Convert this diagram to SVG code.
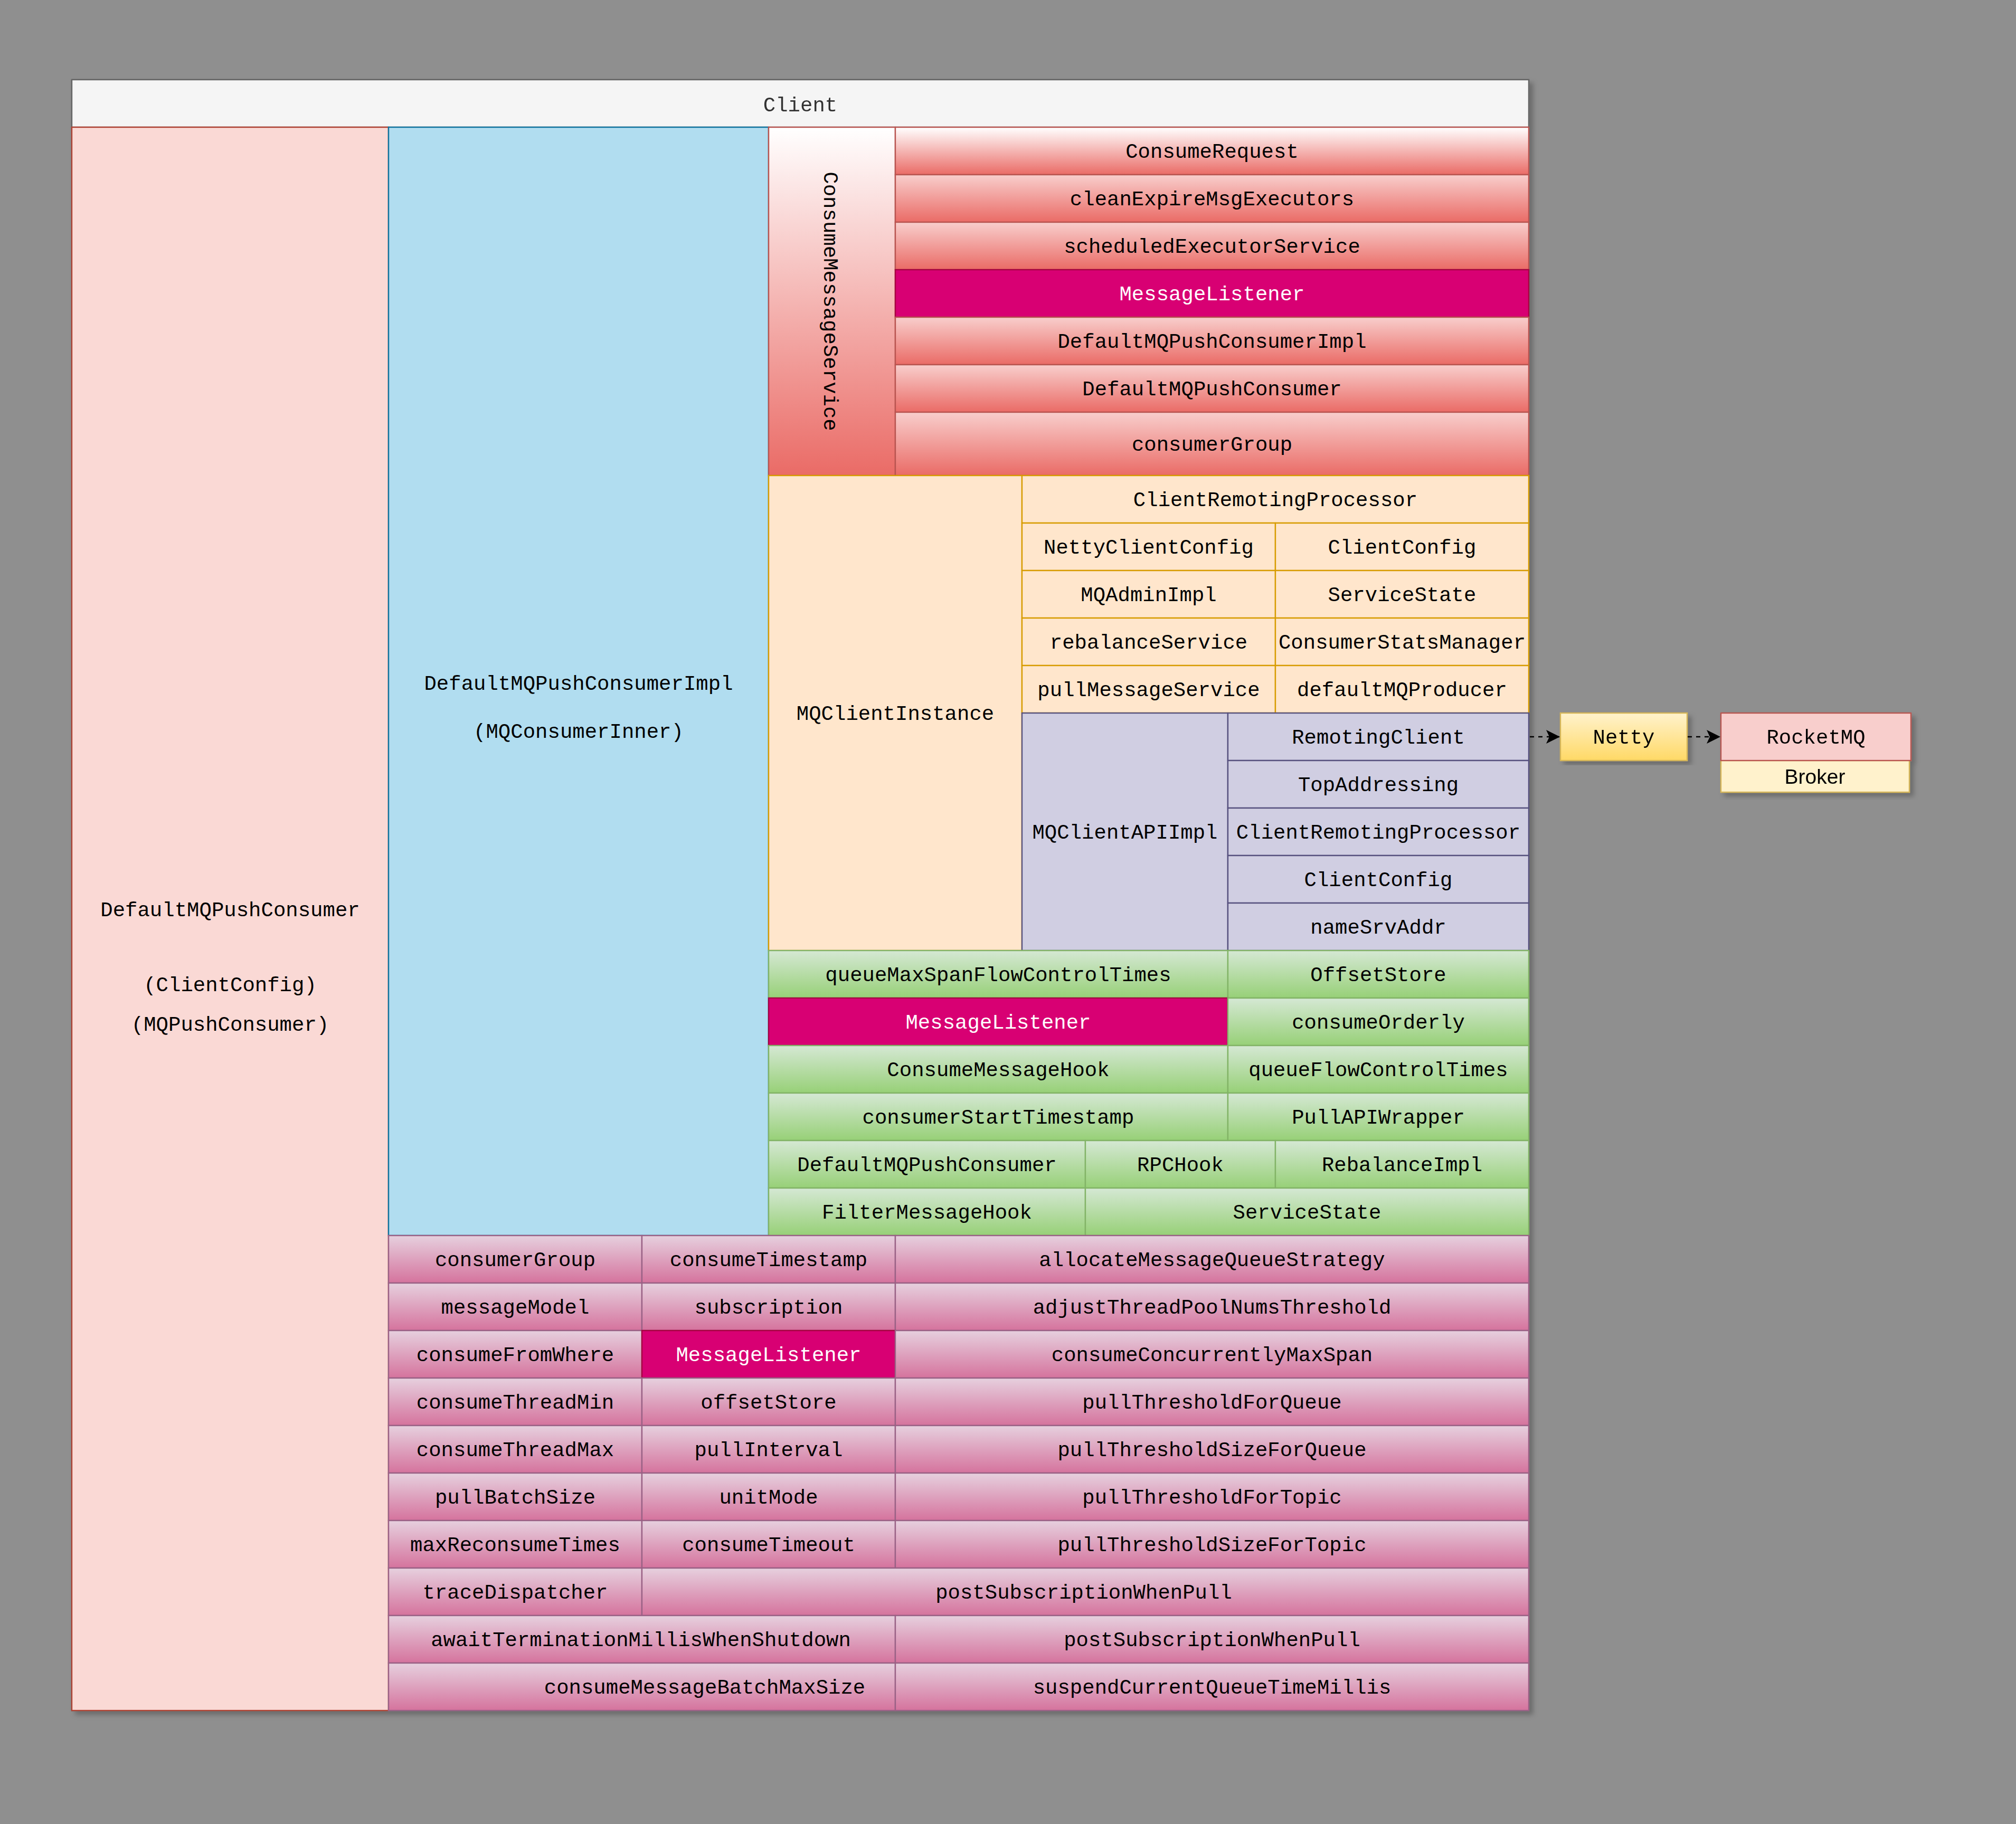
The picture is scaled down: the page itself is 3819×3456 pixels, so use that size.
<svg xmlns="http://www.w3.org/2000/svg" width="3819" height="3456" viewBox="0 0 3819 3456">
<style>
.t{font-family:"Liberation Mono","Courier New",monospace;font-size:39px;text-anchor:middle;fill:#000}
.w{fill:#fff}
.s{font-family:"Liberation Sans",Arial,sans-serif;font-size:39px;text-anchor:middle;fill:#000}
rect{stroke-width:2.4}
.red{fill:url(#gRed);stroke:#b85450}
.redw{fill:url(#gRedW);stroke:#b85450}
.mag{fill:#d80073;stroke:#a50040}
.org{fill:#ffe6cc;stroke:#d79b00}
.pur{fill:#d0cee2;stroke:#56517e}
.grn{fill:url(#gGreen);stroke:#82b366}
.pnk{fill:url(#gPink);stroke:#996185}
.conn{fill:none;stroke:#000;stroke-width:2.4;stroke-dasharray:8 8}
</style>
<defs>
<linearGradient id="gRed" x1="0" y1="0" x2="0" y2="1"><stop offset="0" stop-color="#f8cecc"/><stop offset="1" stop-color="#ea6b66"/></linearGradient>
<linearGradient id="gRedW" x1="0" y1="0" x2="0" y2="1"><stop offset="0" stop-color="#ffffff"/><stop offset="1" stop-color="#ea6b66"/></linearGradient>
<linearGradient id="gGreen" x1="0" y1="0" x2="0" y2="1"><stop offset="0" stop-color="#d5e8d4"/><stop offset="1" stop-color="#97d077"/></linearGradient>
<linearGradient id="gPink" x1="0" y1="0" x2="0" y2="1"><stop offset="0" stop-color="#e6d0de"/><stop offset="1" stop-color="#d5739d"/></linearGradient>
<linearGradient id="gYel" x1="0" y1="0" x2="0" y2="1"><stop offset="0" stop-color="#fff2cc"/><stop offset="1" stop-color="#ffd966"/></linearGradient>
<filter id="sh" x="-5%" y="-5%" width="115%" height="115%"><feDropShadow dx="7" dy="7" stdDeviation="5" flood-color="#000" flood-opacity="0.25"/></filter>
<marker id="ah" viewBox="0 0 26 26" refX="26" refY="13" markerWidth="26" markerHeight="26" markerUnits="userSpaceOnUse" orient="auto"><path d="M0,0 L26,13 L0,26 L6,13 Z" fill="#000"/></marker>
</defs>
<rect x="0" y="0" width="3819" height="3456" fill="#8f8f8f"/>

<g id="client" filter="url(#sh)">
<rect x="136" y="151" width="2760" height="3090" fill="#f5f5f5" stroke="#666666"/>
<rect x="136" y="151" width="2760" height="90" fill="#f5f5f5" stroke="#666666"/>
<text class="t" x="1516" y="211" style="fill:#333">Client</text>
</g>

<g id="defaultMQPushConsumer">
<rect x="136" y="241" width="600" height="3000" fill="#fad9d5" stroke="#ae4132"/>
<text class="t" x="436" y="1736">DefaultMQPushConsumer</text>
<text class="t" x="436" y="1878">(ClientConfig)</text>
<text class="t" x="436" y="1953">(MQPushConsumer)</text>
</g>

<g id="defaultMQPushConsumerImpl">
<rect x="736" y="241" width="720" height="2100" fill="#b1ddf0" stroke="#10739e"/>
<text class="t" x="1096" y="1307">DefaultMQPushConsumerImpl</text>
<text class="t" x="1096" y="1398">(MQConsumerInner)</text>
</g>

<g id="consumeMessageService">
<rect class="redw" x="1456" y="241" width="240" height="660"/>
<text class="t" transform="translate(1561,571) rotate(90)" x="0" y="0">ConsumeMessageService</text>
</g>
<g id="cms-items">
<g id="cms-consumeRequest"><rect class="redw" x="1696" y="241" width="1200" height="90"/><text class="t" x="2296" y="299">ConsumeRequest</text></g>
<g id="cms-cleanExpire"><rect class="red" x="1696" y="331" width="1200" height="90"/><text class="t" x="2296" y="389">cleanExpireMsgExecutors</text></g>
<g id="cms-scheduled"><rect class="red" x="1696" y="421" width="1200" height="90"/><text class="t" x="2296" y="479">scheduledExecutorService</text></g>
<g id="cms-listener"><rect class="mag" x="1696" y="511" width="1200" height="90"/><text class="t w" x="2296" y="569">MessageListener</text></g>
<g id="cms-impl"><rect class="red" x="1696" y="601" width="1200" height="90"/><text class="t" x="2296" y="659">DefaultMQPushConsumerImpl</text></g>
<g id="cms-consumer"><rect class="red" x="1696" y="691" width="1200" height="90"/><text class="t" x="2296" y="749">DefaultMQPushConsumer</text></g>
<g id="cms-group"><rect class="red" x="1696" y="781" width="1200" height="120"/><text class="t" x="2296" y="854">consumerGroup</text></g>
</g>

<g id="mqClientInstance">
<rect class="org" x="1456" y="901" width="480" height="900"/>
<text class="t" x="1696" y="1364">MQClientInstance</text>
</g>
<g id="mqci-items">
<g id="mqci-crp"><rect class="org" x="1936" y="901" width="960" height="90"/><text class="t" x="2416" y="959">ClientRemotingProcessor</text></g>
<g id="mqci-ncc"><rect class="org" x="1936" y="991" width="480" height="90"/><text class="t" x="2176" y="1049">NettyClientConfig</text></g>
<g id="mqci-cc"><rect class="org" x="2416" y="991" width="480" height="90"/><text class="t" x="2656" y="1049">ClientConfig</text></g>
<g id="mqci-admin"><rect class="org" x="1936" y="1081" width="480" height="90"/><text class="t" x="2176" y="1139">MQAdminImpl</text></g>
<g id="mqci-state"><rect class="org" x="2416" y="1081" width="480" height="90"/><text class="t" x="2656" y="1139">ServiceState</text></g>
<g id="mqci-rebalance"><rect class="org" x="1936" y="1171" width="480" height="90"/><text class="t" x="2176" y="1229">rebalanceService</text></g>
<g id="mqci-stats"><rect class="org" x="2416" y="1171" width="480" height="90"/><text class="t" x="2656" y="1229">ConsumerStatsManager</text></g>
<g id="mqci-pull"><rect class="org" x="1936" y="1261" width="480" height="90"/><text class="t" x="2176" y="1319">pullMessageService</text></g>
<g id="mqci-producer"><rect class="org" x="2416" y="1261" width="480" height="90"/><text class="t" x="2656" y="1319">defaultMQProducer</text></g>
</g>

<g id="mqClientAPIImpl">
<rect class="pur" x="1936" y="1351" width="390" height="450"/>
<text class="t" x="2131" y="1589">MQClientAPIImpl</text>
</g>
<g id="api-items">
<g id="api-remoting"><rect class="pur" x="2326" y="1351" width="570" height="90"/><text class="t" x="2611" y="1409">RemotingClient</text></g>
<g id="api-top"><rect class="pur" x="2326" y="1441" width="570" height="90"/><text class="t" x="2611" y="1499">TopAddressing</text></g>
<g id="api-crp"><rect class="pur" x="2326" y="1531" width="570" height="90"/><text class="t" x="2611" y="1589">ClientRemotingProcessor</text></g>
<g id="api-cc"><rect class="pur" x="2326" y="1621" width="570" height="90"/><text class="t" x="2611" y="1679">ClientConfig</text></g>
<g id="api-ns"><rect class="pur" x="2326" y="1711" width="570" height="90"/><text class="t" x="2611" y="1769">nameSrvAddr</text></g>
</g>

<g id="impl-fields">
<g id="f-qmsfct"><rect class="grn" x="1456" y="1801" width="870" height="90"/><text class="t" x="1891" y="1859">queueMaxSpanFlowControlTimes</text></g>
<g id="f-offset"><rect class="grn" x="2326" y="1801" width="570" height="90"/><text class="t" x="2611" y="1859">OffsetStore</text></g>
<g id="f-listener"><rect class="mag" x="1456" y="1891" width="870" height="90"/><text class="t w" x="1891" y="1949">MessageListener</text></g>
<g id="f-orderly"><rect class="grn" x="2326" y="1891" width="570" height="90"/><text class="t" x="2611" y="1949">consumeOrderly</text></g>
<g id="f-hook"><rect class="grn" x="1456" y="1981" width="870" height="90"/><text class="t" x="1891" y="2039">ConsumeMessageHook</text></g>
<g id="f-qfct"><rect class="grn" x="2326" y="1981" width="570" height="90"/><text class="t" x="2611" y="2039">queueFlowControlTimes</text></g>
<g id="f-start"><rect class="grn" x="1456" y="2071" width="870" height="90"/><text class="t" x="1891" y="2129">consumerStartTimestamp</text></g>
<g id="f-pullapi"><rect class="grn" x="2326" y="2071" width="570" height="90"/><text class="t" x="2611" y="2129">PullAPIWrapper</text></g>
<g id="f-consumer"><rect class="grn" x="1456" y="2161" width="600" height="90"/><text class="t" x="1756" y="2219">DefaultMQPushConsumer</text></g>
<g id="f-rpc"><rect class="grn" x="2056" y="2161" width="360" height="90"/><text class="t" x="2236" y="2219">RPCHook</text></g>
<g id="f-rebalance"><rect class="grn" x="2416" y="2161" width="480" height="90"/><text class="t" x="2656" y="2219">RebalanceImpl</text></g>
<g id="f-filter"><rect class="grn" x="1456" y="2251" width="600" height="90"/><text class="t" x="1756" y="2309">FilterMessageHook</text></g>
<g id="f-state"><rect class="grn" x="2056" y="2251" width="840" height="90"/><text class="t" x="2476" y="2309">ServiceState</text></g>
</g>

<g id="consumer-fields">
<g id="c1"><rect class="pnk" x="736" y="2341" width="480" height="90"/><text class="t" x="976" y="2399">consumerGroup</text></g>
<g id="c2"><rect class="pnk" x="1216" y="2341" width="480" height="90"/><text class="t" x="1456" y="2399">consumeTimestamp</text></g>
<g id="c3"><rect class="pnk" x="1696" y="2341" width="1200" height="90"/><text class="t" x="2296" y="2399">allocateMessageQueueStrategy</text></g>
<g id="c4"><rect class="pnk" x="736" y="2431" width="480" height="90"/><text class="t" x="976" y="2489">messageModel</text></g>
<g id="c5"><rect class="pnk" x="1216" y="2431" width="480" height="90"/><text class="t" x="1456" y="2489">subscription</text></g>
<g id="c6"><rect class="pnk" x="1696" y="2431" width="1200" height="90"/><text class="t" x="2296" y="2489">adjustThreadPoolNumsThreshold</text></g>
<g id="c7"><rect class="pnk" x="736" y="2521" width="480" height="90"/><text class="t" x="976" y="2579">consumeFromWhere</text></g>
<g id="c8"><rect class="mag" x="1216" y="2521" width="480" height="90"/><text class="t w" x="1456" y="2579">MessageListener</text></g>
<g id="c9"><rect class="pnk" x="1696" y="2521" width="1200" height="90"/><text class="t" x="2296" y="2579">consumeConcurrentlyMaxSpan</text></g>
<g id="c10"><rect class="pnk" x="736" y="2611" width="480" height="90"/><text class="t" x="976" y="2669">consumeThreadMin</text></g>
<g id="c11"><rect class="pnk" x="1216" y="2611" width="480" height="90"/><text class="t" x="1456" y="2669">offsetStore</text></g>
<g id="c12"><rect class="pnk" x="1696" y="2611" width="1200" height="90"/><text class="t" x="2296" y="2669">pullThresholdForQueue</text></g>
<g id="c13"><rect class="pnk" x="736" y="2701" width="480" height="90"/><text class="t" x="976" y="2759">consumeThreadMax</text></g>
<g id="c14"><rect class="pnk" x="1216" y="2701" width="480" height="90"/><text class="t" x="1456" y="2759">pullInterval</text></g>
<g id="c15"><rect class="pnk" x="1696" y="2701" width="1200" height="90"/><text class="t" x="2296" y="2759">pullThresholdSizeForQueue</text></g>
<g id="c16"><rect class="pnk" x="736" y="2791" width="480" height="90"/><text class="t" x="976" y="2849">pullBatchSize</text></g>
<g id="c17"><rect class="pnk" x="1216" y="2791" width="480" height="90"/><text class="t" x="1456" y="2849">unitMode</text></g>
<g id="c18"><rect class="pnk" x="1696" y="2791" width="1200" height="90"/><text class="t" x="2296" y="2849">pullThresholdForTopic</text></g>
<g id="c19"><rect class="pnk" x="736" y="2881" width="480" height="90"/><text class="t" x="976" y="2939">maxReconsumeTimes</text></g>
<g id="c20"><rect class="pnk" x="1216" y="2881" width="480" height="90"/><text class="t" x="1456" y="2939">consumeTimeout</text></g>
<g id="c21"><rect class="pnk" x="1696" y="2881" width="1200" height="90"/><text class="t" x="2296" y="2939">pullThresholdSizeForTopic</text></g>
<g id="c22"><rect class="pnk" x="736" y="2971" width="480" height="90"/><text class="t" x="976" y="3029">traceDispatcher</text></g>
<g id="c23"><rect class="pnk" x="1216" y="2971" width="1680" height="90"/><text class="t" x="2053" y="3029">postSubscriptionWhenPull</text></g>
<g id="c24"><rect class="pnk" x="736" y="3061" width="960" height="90"/><text class="t" x="1214" y="3119">awaitTerminationMillisWhenShutdown</text></g>
<g id="c25"><rect class="pnk" x="1696" y="3061" width="1200" height="90"/><text class="t" x="2296" y="3119">postSubscriptionWhenPull</text></g>
<g id="c26"><rect class="pnk" x="736" y="3151" width="960" height="90"/><text class="t" x="1335" y="3209">consumeMessageBatchMaxSize</text></g>
<g id="c27"><rect class="pnk" x="1696" y="3151" width="1200" height="90"/><text class="t" x="2296" y="3209">suspendCurrentQueueTimeMillis</text></g>
</g>

<g id="netty" filter="url(#sh)">
<rect x="2956" y="1351" width="240" height="90" fill="url(#gYel)" stroke="#d6b656"/>
<text class="t" x="3076" y="1409">Netty</text>
</g>

<g id="rocketmq" filter="url(#sh)">
<rect x="3260" y="1441" width="357" height="60" fill="#fff2cc" stroke="#d6b656"/>
<rect x="3260" y="1351" width="360" height="90" fill="#f8cecc" stroke="#b85450"/>
<text class="t" x="3440" y="1409">RocketMQ</text>
<text class="s" x="3438" y="1485">Broker</text>
</g>

<g id="connectors">
<line class="conn" x1="2898" y1="1396" x2="2955" y2="1396" marker-end="url(#ah)"/>
<line class="conn" x1="3197" y1="1396" x2="3259" y2="1396" marker-end="url(#ah)"/>
</g>
</svg>
